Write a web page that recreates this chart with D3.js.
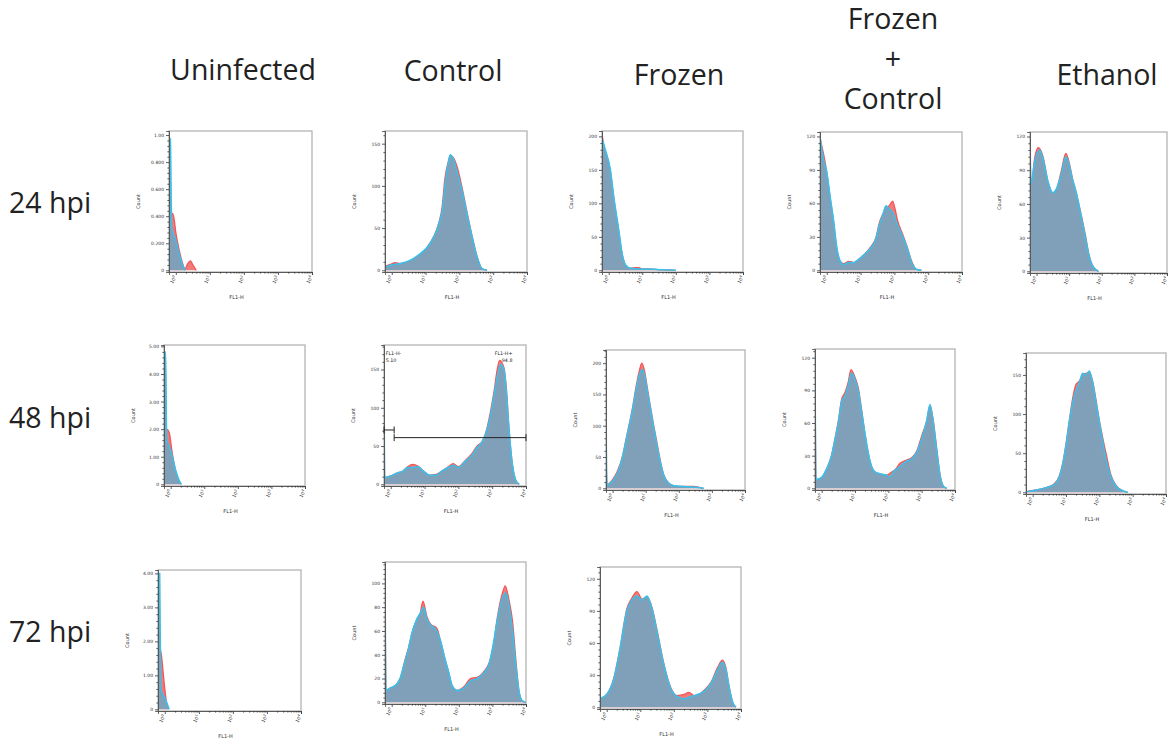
<!DOCTYPE html>
<html>
<head>
<meta charset="utf-8">
<script src="https://cdn.jsdelivr.net/npm/d3@7"></script>
<style>
  html, body { margin: 0; padding: 0; background: #fff; }
  svg { display: block; }
</style>
</head>
<body>
<svg id="fig" width="1170" height="738"></svg>
<script>
// ---- Histogram data: [log10(FL1-H), count]; blue = sample, red = overlay ----
const u24Blue = [[-0.2,0.98],[-0.16,0.97],[-0.12,0.32],[0.0,0.22],[0.1,0.12],[0.2,0.04],[0.28,0]];
const u24Red  = [[-0.2,0.3],[-0.1,0.42],[-0.05,0.38],[0.0,0.28],[0.1,0.15],[0.2,0.05],[0.27,0.01],[0.35,0.05],[0.43,0.07],[0.5,0.04],[0.6,0]];

const c24Blue = [[-0.2,4],[-0.05,6],[0.25,8],[0.55,12],[0.85,20],[1.04,27],[1.24,39],[1.39,55],[1.49,70],[1.58,102],[1.68,129],[1.73,137],[1.83,131],[1.93,117],[2.08,94],[2.23,66],[2.38,39],[2.52,16],[2.67,2],[2.82,0]];
const c24Red  = [[-0.2,5],[-0.05,7],[0.1,9],[0.25,8],[0.55,11],[0.85,19],[1.04,27],[1.24,40],[1.39,56],[1.49,75],[1.57,108],[1.68,130],[1.73,136],[1.83,133],[1.93,123],[2.08,98],[2.23,68],[2.38,40],[2.52,17],[2.67,2],[2.82,0]];

const f24Blue = [[-0.2,198],[-0.1,180],[0.05,150],[0.15,110],[0.3,60],[0.4,25],[0.5,8],[0.65,3],[0.9,2],[1.2,2],[1.5,1],[1.8,0.5],[2.0,0]];
const f24Red  = [[-0.2,205],[-0.15,186],[-0.1,178],[0.05,148],[0.15,108],[0.3,58],[0.4,24],[0.5,8],[0.65,3],[0.8,4],[0.9,4],[1.0,2],[1.2,2],[1.5,1],[1.8,0.5],[2.0,0]];

const fc24Blue = [[-0.2,120],[-0.1,100],[0,88],[0.1,66],[0.2,45],[0.3,20],[0.4,8],[0.5,5],[0.65,7],[0.8,7],[0.95,10],[1.1,14],[1.3,20],[1.45,28],[1.55,40],[1.65,49],[1.75,58],[1.85,55],[1.95,52],[2.1,40],[2.25,30],[2.4,18],[2.5,8],[2.65,1],[2.8,0]];
const fc24Red  = [[-0.2,118],[-0.1,105],[0,88],[0.1,65],[0.2,44],[0.3,19],[0.4,8],[0.5,6],[0.65,8],[0.8,7],[0.95,10],[1.1,14],[1.3,21],[1.45,29],[1.55,42],[1.65,50],[1.75,55],[1.85,58],[1.95,62],[2.02,55],[2.1,44],[2.25,32],[2.4,19],[2.5,9],[2.65,1],[2.8,0]];

const e24Blue = [[-0.2,120],[-0.17,78],[-0.05,99],[0.1,108],[0.2,100],[0.35,80],[0.5,70],[0.6,73],[0.75,85],[0.9,102],[1.0,95],[1.1,82],[1.2,72],[1.35,52],[1.5,30],[1.6,15],[1.7,6],[1.8,2],[1.9,0]];
const e24Red  = [[-0.2,118],[-0.17,76],[-0.05,102],[0.05,110],[0.2,102],[0.35,80],[0.5,69],[0.6,72],[0.75,88],[0.9,105],[1.0,97],[1.1,83],[1.2,72],[1.35,53],[1.5,32],[1.6,16],[1.7,6],[1.8,2],[1.9,0]];

const u48Blue = [[-0.2,4.8],[-0.15,4.8],[-0.12,1.6],[-0.05,1.4],[0.05,1.0],[0.15,0.5],[0.25,0.15],[0.32,0]];
const u48Red  = [[-0.2,2.0],[-0.12,2.0],[-0.05,1.9],[0.05,1.1],[0.15,0.45],[0.25,0.1],[0.3,0]];

const c48Blue = [[-0.2,180],[-0.18,9],[0,11],[0.2,15],[0.35,17],[0.5,22],[0.65,22],[0.8,23],[0.95,18],[1.15,12],[1.35,12],[1.5,17],[1.7,22],[1.85,25],[2.0,22],[2.2,30],[2.4,38],[2.55,48],[2.7,55],[2.8,65],[2.95,90],[3.05,115],[3.15,140],[3.25,157],[3.35,150],[3.42,120],[3.5,70],[3.6,25],[3.7,5],[3.8,0]];
const c48Red  = [[-0.2,170],[-0.18,9],[0,11],[0.2,15],[0.35,17],[0.5,23],[0.65,26],[0.8,24],[0.95,18],[1.15,12],[1.35,13],[1.5,17],[1.7,23],[1.85,27],[2.0,23],[2.2,31],[2.4,40],[2.55,50],[2.7,56],[2.8,66],[2.95,95],[3.05,120],[3.15,150],[3.22,162],[3.35,152],[3.42,125],[3.5,72],[3.6,25],[3.7,5],[3.8,0]];

const f48Blue = [[-0.2,129],[-0.17,5],[0,12],[0.15,25],[0.3,50],[0.4,75],[0.5,100],[0.6,125],[0.7,155],[0.8,180],[0.9,190],[0.97,180],[1.05,155],[1.15,125],[1.25,95],[1.35,65],[1.45,40],[1.55,20],[1.7,8],[1.85,4],[2.15,3],[2.45,2],[2.65,1],[2.75,0]];
const f48Red  = [[-0.2,60],[-0.17,6],[0,14],[0.15,28],[0.3,52],[0.4,77],[0.5,102],[0.6,128],[0.7,160],[0.8,186],[0.88,200],[0.97,186],[1.05,160],[1.15,128],[1.25,98],[1.35,70],[1.45,42],[1.55,21],[1.7,8],[1.85,4],[2.15,3],[2.45,3],[2.65,1],[2.75,0]];

const fc48Blue = [[-0.2,120],[-0.17,8],[0,10],[0.15,18],[0.3,30],[0.4,45],[0.5,60],[0.6,80],[0.7,85],[0.8,95],[0.9,106],[1.0,100],[1.1,89],[1.2,70],[1.3,50],[1.45,25],[1.6,15],[1.8,13],[1.95,12],[2.05,10],[2.15,15],[2.35,20],[2.55,25],[2.7,27],[2.85,33],[3.0,45],[3.15,62],[3.25,77],[3.35,60],[3.45,35],[3.55,12],[3.65,2],[3.75,0]];
const fc48Red  = [[-0.2,110],[-0.17,8],[0,10],[0.15,18],[0.3,31],[0.4,46],[0.5,62],[0.6,82],[0.7,88],[0.8,98],[0.88,109],[1.0,102],[1.1,92],[1.2,72],[1.3,50],[1.45,25],[1.6,15],[1.8,13],[1.95,12],[2.1,15],[2.2,17],[2.35,23],[2.55,26],[2.7,28],[2.85,34],[3.0,48],[3.15,62],[3.25,76],[3.35,62],[3.45,37],[3.55,13],[3.65,2],[3.75,0]];

const e48Blue = [[-0.2,1],[-0.15,1],[0.1,3],[0.4,6],[0.65,10],[0.8,20],[0.9,35],[1.0,60],[1.1,90],[1.2,115],[1.3,130],[1.4,140],[1.5,152],[1.6,150],[1.7,155],[1.8,140],[1.9,115],[2.0,90],[2.1,65],[2.2,42],[2.35,20],[2.5,8],[2.7,2],[2.85,0]];
const e48Red  = [[-0.2,1],[0.1,3],[0.4,6],[0.65,11],[0.8,21],[0.9,37],[1.0,62],[1.1,92],[1.2,120],[1.3,138],[1.4,142],[1.5,150],[1.6,152],[1.7,153],[1.8,142],[1.9,118],[2.0,92],[2.1,70],[2.2,50],[2.35,22],[2.5,9],[2.7,2],[2.85,0]];

const u72Blue = [[-0.2,4.0],[-0.15,4.0],[-0.12,0.6],[0,0.35],[0.13,0]];
const u72Red  = [[-0.2,1.8],[-0.15,1.8],[-0.1,1.6],[-0.05,1.1],[0,0.6],[0.05,0.2],[0.1,0]];

const c72Blue = [[-0.2,116],[-0.17,10],[-0.05,12],[0.1,14],[0.25,20],[0.4,35],[0.5,45],[0.6,58],[0.75,70],[0.85,75],[0.95,80],[1.05,70],[1.15,65],[1.3,62],[1.45,52],[1.6,35],[1.7,25],[1.8,14],[1.95,10],[2.15,12],[2.35,18],[2.55,20],[2.75,25],[2.9,32],[3.0,45],[3.15,70],[3.3,88],[3.4,92],[3.5,80],[3.6,60],[3.7,30],[3.8,8],[3.9,1],[4,0]];
const c72Red  = [[-0.2,100],[-0.17,10],[-0.05,12],[0.1,14],[0.25,20],[0.4,36],[0.5,46],[0.6,58],[0.75,70],[0.85,75],[0.93,85],[1.05,72],[1.15,66],[1.35,62],[1.45,52],[1.6,35],[1.7,25],[1.8,14],[1.95,10],[2.15,13],[2.35,20],[2.55,21],[2.75,26],[2.9,33],[3.05,52],[3.15,72],[3.3,92],[3.38,98],[3.5,85],[3.6,68],[3.7,35],[3.8,8],[3.9,1],[4,0]];

const f72Blue = [[-0.2,8],[0,12],[0.2,25],[0.4,55],[0.6,90],[0.75,100],[0.9,104],[1.05,100],[1.2,104],[1.35,92],[1.5,70],[1.7,40],[1.9,18],[2.1,10],[2.3,8],[2.5,10],[2.7,12],[2.9,15],[3.1,22],[3.3,35],[3.45,42],[3.55,35],[3.65,18],[3.75,5],[3.85,0]];
const f72Red  = [[-0.2,8],[0,12],[0.2,26],[0.4,56],[0.6,92],[0.75,102],[0.9,108],[1.05,101],[1.2,103],[1.35,93],[1.5,72],[1.7,41],[1.9,19],[2.1,11],[2.3,12],[2.45,14],[2.6,11],[2.75,12],[2.9,16],[3.1,23],[3.3,37],[3.45,44],[3.55,37],[3.65,19],[3.75,5],[3.85,0]];

// ---- Axis tick values and labels ----
const xDecades = [0, 1, 2, 3, 4];
const ticksThousandths = [0, 0.2, 0.4, 0.6, 0.8, 1.0];
const labelsThousandths = ["0", "0.200", "0.400", "0.600", "0.800", "1.00"];
const ticksFive = [0, 1, 2, 3, 4, 5];
const labelsFive = ["0", "1.00", "2.00", "3.00", "4.00", "5.00"];
const ticksFour = [0, 1, 2, 3, 4];
const labelsFour = ["0", "1.00", "2.00", "3.00", "4.00"];
const ticks50to150 = [0, 50, 100, 150];
const ticks50to200 = [0, 50, 100, 150, 200];
const ticks30to120 = [0, 30, 60, 90, 120];
const ticks20to100 = [0, 20, 40, 60, 80, 100];

// ---- Row / column headings ----
const columnTitles = ["Uninfected", "Control", "Frozen", "Frozen|+|Control", "Ethanol"];
const rowTitles = ["24 hpi", "48 hpi", "72 hpi"];

// ---- Gate on the 48 hpi control plot ----
const gateNames = ["FL1-H-", "FL1-H+"];
const gatePercents = ["5.10", "94.8"];
const gateRanges = [[-0.2, 0.1, 71], [0.1, 4, 61]];

// ---- Panels: data, y range and where each plot frame sits ----
const panels = [
  { blue: u24Blue,  red: u24Red,  yMax: 1.03, ticks: ticksThousandths, labels: labelsThousandths, frame: [169, 131, 143, 141] },
  { blue: c24Blue,  red: c24Red,  yMax: 165,  ticks: ticks50to150, frame: [385, 131, 142, 141] },
  { blue: f24Blue,  red: f24Red,  yMax: 208,  ticks: ticks50to200, frame: [602, 131, 141, 141] },
  { blue: fc24Blue, red: fc24Red, yMax: 124,  ticks: ticks30to120, frame: [820, 132, 142, 140] },
  { blue: e24Blue,  red: e24Red,  yMax: 124,  ticks: ticks30to120, frame: [1030, 132, 137, 141] },
  { blue: u48Blue,  red: u48Red,  yMax: 5.05, ticks: ticksFive, labels: labelsFive, frame: [164, 345, 141, 141] },
  { blue: c48Blue,  red: c48Red,  yMax: 182,  ticks: ticks50to150, frame: [384, 345, 142, 141], gate: true },
  { blue: f48Blue,  red: f48Red,  yMax: 221,  ticks: ticks50to200, frame: [606, 350, 139, 140] },
  { blue: fc48Blue, red: fc48Red, yMax: 128,  ticks: ticks30to120, frame: [815, 349, 140, 141] },
  { blue: e48Blue,  red: e48Red,  yMax: 178,  ticks: ticks50to150, frame: [1026, 353, 140, 141] },
  { blue: u72Blue,  red: u72Red,  yMax: 4.1,  ticks: ticksFour, labels: labelsFour, frame: [158, 570, 143, 141] },
  { blue: c72Blue,  red: c72Red,  yMax: 118,  ticks: ticks20to100, frame: [385, 562, 141, 142] },
  { blue: f72Blue,  red: f72Red,  yMax: 131,  ticks: ticks30to120, frame: [600, 567, 141, 142] }
];

const colX = [243, 453, 679, 893, 1107];
const colY = [80, 81, 85, 29, 85];
const rowY = [213, 428, 642];

const svg = d3.select("#fig");
const defs = svg.append("defs");
const tiny = "DejaVu Sans, sans-serif";

// headings
columnTitles.forEach((t, i) => {
  const lines = t.split("|");
  const txt = svg.append("text")
    .attr("x", colX[i]).attr("y", colY[i])
    .attr("text-anchor", "middle")
    .attr("font-family", "Open Sans, sans-serif")
    .attr("font-size", 28.5).attr("fill", "#222");
  lines.forEach((ln, k) => {
    txt.append("tspan").attr("x", colX[i]).attr("dy", k === 0 ? 0 : 40).text(ln);
  });
});
rowTitles.forEach((t, i) => {
  svg.append("text")
    .attr("x", 9).attr("y", rowY[i])
    .attr("font-family", "Open Sans, sans-serif")
    .attr("font-size", 28.5).attr("fill", "#222")
    .text(t);
});

panels.forEach((p, idx) => {
  const [fx, fy, fw, fh] = p.frame;
  const x = d3.scaleLinear().domain([-0.2, 4]).range([fx, fx + fw]);
  const y = d3.scaleLinear().domain([-p.yMax * 0.012, p.yMax]).range([fy + fh, fy]);
  const g = svg.append("g");

  const clipId = "clip" + idx;
  defs.append("clipPath").attr("id", clipId)
    .append("rect").attr("x", fx).attr("y", fy).attr("width", fw).attr("height", fh);

  const area = d3.area()
    .x(d => x(d[0])).y0(y(0)).y1(d => y(d[1]))
    .curve(d3.curveMonotoneX);
  const line = d3.line()
    .x(d => x(d[0])).y(d => y(d[1]))
    .curve(d3.curveMonotoneX);

  const plot = g.append("g").attr("clip-path", `url(#${clipId})`);
  plot.append("path").datum(p.red).attr("d", area).attr("fill", "#f37a7a");
  plot.append("path").datum(p.red).attr("d", line)
    .attr("fill", "none").attr("stroke", "#f05858").attr("stroke-width", 1.3);
  plot.append("path").datum(p.blue).attr("d", area).attr("fill", "#809fb8");
  plot.append("path").datum(p.blue).attr("d", line)
    .attr("fill", "none").attr("stroke", "#36c2ec").attr("stroke-width", 1.5);

  // frame
  g.append("rect").attr("x", fx).attr("y", fy).attr("width", fw).attr("height", fh)
    .attr("fill", "none").attr("stroke", "#b4b4b4").attr("stroke-width", 1.3);

  // y axis: major + minor ticks
  const yMinor = [];
  const step = p.ticks[1] - p.ticks[0];
  p.ticks.forEach(t => {
    for (let k = 1; k < 5; k++) {
      const v = t + step * k / 5;
      if (v <= p.yMax) yMinor.push(v);
    }
  });
  const yAxis = g.append("g").attr("transform", `translate(${fx},0)`)
    .call(d3.axisLeft(y).tickValues(p.ticks).tickSize(3).tickPadding(2)
      .tickFormat((d, i) => p.labels ? p.labels[i] : String(d)));
  const yAxisMinor = g.append("g").attr("transform", `translate(${fx},0)`)
    .call(d3.axisLeft(y).tickValues(yMinor).tickSize(1.6).tickFormat(""));

  // x axis: decades + log minor ticks
  const xMinor = [];
  for (let d = 0; d < 4; d++) for (let m = 2; m < 10; m++) xMinor.push(d + Math.log10(m));
  const xAxis = g.append("g").attr("transform", `translate(0,${fy + fh})`)
    .call(d3.axisBottom(x).tickValues(xDecades).tickSize(3).tickFormat(""));
  const xAxisMinor = g.append("g").attr("transform", `translate(0,${fy + fh})`)
    .call(d3.axisBottom(x).tickValues(xMinor).tickSize(1.6).tickFormat(""));

  [yAxis, yAxisMinor, xAxis, xAxisMinor].forEach(a => {
    a.select(".domain").attr("stroke", "#555").attr("stroke-width", 0.8);
    a.selectAll(".tick line").attr("stroke", "#333").attr("stroke-width", 0.8);
  });
  yAxis.selectAll(".tick text").attr("font-family", tiny).attr("font-size", 4.5).attr("fill", "#333");

  xDecades.forEach(d => {
    const t = g.append("text")
      .attr("transform", `translate(${x(d) + 1},${fy + fh + 5}) rotate(-60)`)
      .attr("text-anchor", "end")
      .attr("font-family", tiny).attr("font-size", 4.5).attr("fill", "#333");
    t.append("tspan").text("10");
    t.append("tspan").attr("dy", -2).attr("font-size", 3.5).text(d);
  });

  // axis titles
  g.append("text")
    .attr("transform", `translate(${fx - 29},${fy + fh / 2}) rotate(-90)`)
    .attr("text-anchor", "middle")
    .attr("font-family", tiny).attr("font-size", 5).attr("fill", "#333")
    .text("Count");
  g.append("text")
    .attr("x", fx + fw / 2 - 4).attr("y", fy + fh + 27)
    .attr("text-anchor", "middle")
    .attr("font-family", tiny).attr("font-size", 5).attr("fill", "#333")
    .text("FL1-H");

  if (p.gate) {
    gateRanges.forEach(([a, b, v]) => {
      const yy = y(v);
      g.append("line").attr("x1", x(a)).attr("x2", x(b)).attr("y1", yy).attr("y2", yy)
        .attr("stroke", "#222").attr("stroke-width", 1);
      [a, b].forEach(e => {
        g.append("line").attr("x1", x(e)).attr("x2", x(e)).attr("y1", yy - 3.5).attr("y2", yy + 3.5)
          .attr("stroke", "#222").attr("stroke-width", 1);
      });
    });
    const anchors = [[x(-0.15), "start"], [x(3.6), "end"]];
    anchors.forEach(([ax, anchor], i) => {
      g.append("text").attr("x", ax).attr("y", fy + 10)
        .attr("text-anchor", anchor).attr("font-family", tiny).attr("font-size", 4.8).attr("fill", "#222")
        .text(gateNames[i]);
      g.append("text").attr("x", ax).attr("y", fy + 17)
        .attr("text-anchor", anchor).attr("font-family", tiny).attr("font-size", 4.8).attr("fill", "#222")
        .text(gatePercents[i]);
    });
  }
});
</script>
</body>
</html>
